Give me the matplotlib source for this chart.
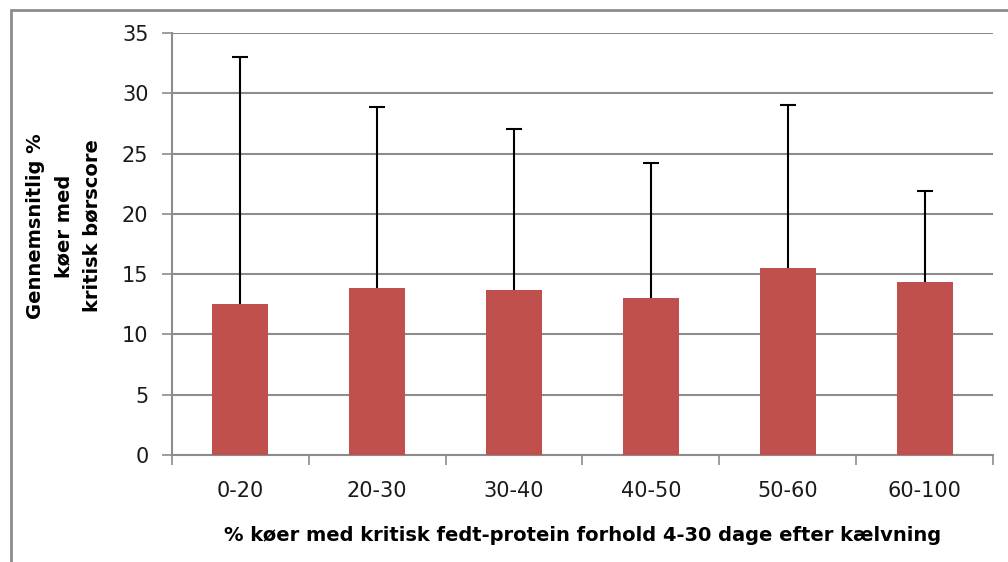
import matplotlib
matplotlib.use("Agg")
import matplotlib.pyplot as plt
from matplotlib.patches import Rectangle

categories = ["0-20", "20-30", "30-40", "40-50", "50-60", "60-100"]
means = [12.5, 13.85, 13.7, 13.0, 15.5, 14.35]
upper = [33.0, 28.85, 27.0, 24.2, 29.0, 21.9]
errors = [u - m for u, m in zip(upper, means)]
yticks = [0, 5, 10, 15, 20, 25, 30, 35]

W, H = 1008, 562
fig = plt.figure(figsize=(W / 100, H / 100), dpi=100)
plt.rcParams["font.family"] = ["DejaVu Sans"]

# outer chart border (partially cropped in reference)
fig.patches.append(Rectangle((11 / W, -0.1), 1.2, (H - 10) / H + 0.1,
                             transform=fig.transFigure, fill=False,
                             edgecolor="#8c8c8c", linewidth=2))

ax = fig.add_axes([172 / W, 1 - 455 / H, (993 - 172) / W, (455 - 33) / H])
x = list(range(len(categories)))
ax.bar(x, means, width=0.41, color="#c0504d", zorder=3)
eb = ax.errorbar(x, means, yerr=[[0] * len(errors), errors], fmt="none",
                 ecolor="black", elinewidth=1.5, capsize=6, capthick=1.5, zorder=4)
caps = eb[1]
if len(caps) >= 2:
    caps[0].set_visible(False)

ax.set_xlim(-0.5, len(categories) - 0.5)
ax.set_ylim(0, 35)
ax.set_yticks(yticks)
ax.set_yticklabels([str(t) for t in yticks], fontsize=15, color="#1a1a1a")
ax.yaxis.grid(True, color="#8c8c8c", linewidth=1.5, zorder=0)
ax.set_axisbelow(True)

ax.set_xticks(x)
ax.set_xticklabels(categories, fontsize=15, color="#1a1a1a")
ax.tick_params(axis="x", which="major", length=0, pad=19)
ax.set_xticks([i - 0.5 for i in range(len(categories) + 1)], minor=True)
ax.tick_params(axis="x", which="minor", length=7, color="#8c8c8c", width=1.2)
ax.tick_params(axis="y", length=7, color="#8c8c8c", width=1.2, pad=10)

for s in ["top", "right"]:
    ax.spines[s].set_visible(False)
for s in ["left", "bottom"]:
    ax.spines[s].set_color("#8c8c8c")
    ax.spines[s].set_linewidth(1.5)

ax.set_xlabel("% køer med kritisk fedt-protein forhold 4-30 dage efter kælvning",
              fontsize=14, fontweight="bold", labelpad=18)
fig.text(64 / W, 1 - 226 / H, "Gennemsnitlig %\nkøer med\nkritisk børscore",
         rotation=90, ha="center", va="center", fontsize=14,
         fontweight="bold", linespacing=1.6)

fig.savefig("out.png", dpi=100)
